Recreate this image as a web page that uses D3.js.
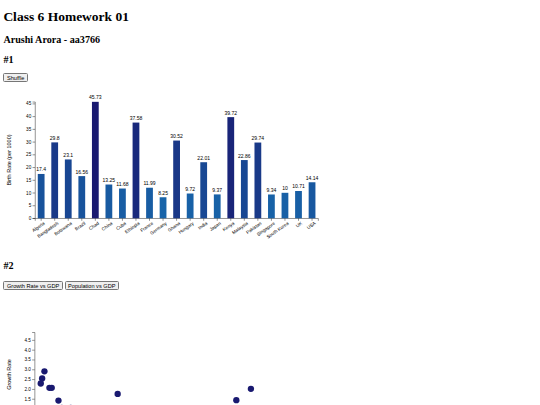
<!DOCTYPE html>
<html>
<head>
<meta charset="utf-8">
<script src="https://cdn.jsdelivr.net/npm/d3@7"></script>
<style>
  html { zoom: 0.421875; }
  body { font-family: "Times New Roman", "Liberation Serif", serif; margin: 8px; background: #fff; }
  h1 { margin-top: 14px; }
  button { font-family: Arial, "Liberation Sans", sans-serif; font-size: 13.33px; }
  .btn2 { position: relative; top: 5px; }
  svg { display: block; }
  .axis text { font-family: Arial, "Liberation Sans", sans-serif; font-size: 11px; }
</style>
</head>
<body>
<h1>Class 6 Homework 01</h1>
<h2>Arushi Arora - aa3766</h2>
<h2>#1</h2>
<button id="shuffle">Shuffle</button>
<div id="bar"></div>
<h2>#2</h2>
<button class="btn2">Growth Rate vs GDP</button> <button class="btn2">Population vs GDP</button>
<div id="scatter"></div>
<script>
// ---- Data: bar chart ----
const countries = ["Algeria","Bangladesh","Botswana","Brazil","Chad","China","Cuba","Ethiopia","France","Germany","Ghana","Hungary","India","Japan","Kenya","Malaysia","Pakistan","Singapore","South Korea","UK","USA"];
const birthRates = [17.4, 29.8, 23.1, 16.56, 45.73, 13.25, 11.68, 37.58, 11.99, 8.25, 30.52, 9.72, 22.01, 9.37, 39.72, 22.86, 29.74, 9.34, 10, 10.71, 14.14];
const yTicksBar = [0, 5, 10, 15, 20, 25, 30, 35, 40, 45];

// ---- Data: scatter (GDP vs growth rate) ----
const gdp    = [2.42, 1.85, 1.51, 3.65, 4.22, 5.88, 20.5, 53.4, 49.8, 10.2, 8.9, 15.3, 31.0, 42.5, 11.0, 61.0, 38.0, 27.0, 12.5, 9.4, 6.7];
const growth = [2.91, 2.55, 2.29, 2.07, 2.07, 1.42, 1.76, 2.02, 1.44, 0.98, 1.05, 0.95, 0.85, 0.80, 1.00, 0.90, 0.75, 0.70, 0.95, 1.00, 1.05];
const scatterYDomain = [0.6, 4.9];
const scatterXDomain = [0, 70];

// ---- Bar chart ----
(function(){
  const margin = {top: 47, right: 30, bottom: 79, left: 76};
  const width = 671, height = 276;
  const svg = d3.select("#bar").append("svg")
    .attr("width", width + margin.left + margin.right)
    .attr("height", height + margin.top + margin.bottom)
    .append("g").attr("transform", `translate(${margin.left},${margin.top})`);

  const data = countries.map((c, i) => ({country: c, value: birthRates[i]}));
  const x = d3.scaleBand().domain(countries).range([0, width]).paddingInner(0.5).paddingOuter(0.2);
  const y = d3.scaleLinear().domain([0, d3.max(birthRates)]).range([height, 0]);
  const color = d3.scaleLinear().domain(d3.extent(birthRates)).range(["#1864a9", "#191970"]);

  svg.append("g").attr("class", "axis").attr("transform", `translate(0,${height})`)
    .call(d3.axisBottom(x))
    .selectAll("text")
      .attr("transform", "rotate(-35)")
      .style("text-anchor", "end");

  svg.append("g").attr("class", "axis").call(d3.axisLeft(y).tickValues(yTicksBar));

  svg.selectAll("rect.bar").data(data).enter().append("rect")
    .attr("class", "bar")
    .attr("x", d => x(d.country))
    .attr("y", d => y(d.value))
    .attr("width", x.bandwidth())
    .attr("height", d => height - y(d.value))
    .attr("fill", d => color(d.value));

  svg.selectAll("text.lbl").data(data).enter().append("text")
    .attr("class", "lbl")
    .attr("x", d => x(d.country) + x.bandwidth() / 2)
    .attr("y", d => y(d.value) - 6)
    .attr("text-anchor", "middle")
    .style("font-family", "Arial, 'Liberation Sans', sans-serif")
    .style("font-size", "12px")
    .text(d => d.value);

  svg.append("text")
    .attr("transform", "rotate(-90)")
    .attr("x", -height / 2)
    .attr("y", -58)
    .attr("text-anchor", "middle")
    .style("font-family", "Arial, 'Liberation Sans', sans-serif")
    .style("font-size", "13px")
    .text("Birth Rate (per 1000)");
})();

// ---- Scatter ----
(function(){
  const margin = {top: 105, right: 30, bottom: 60, left: 75};
  const width = 672, height = 200;
  const svg = d3.select("#scatter").append("svg")
    .attr("width", width + margin.left + margin.right)
    .attr("height", height + margin.top + margin.bottom)
    .append("g").attr("transform", `translate(${margin.left},${margin.top})`);

  const x = d3.scaleLinear().domain(scatterXDomain).range([0, width]);
  const y = d3.scaleLinear().domain(scatterYDomain).range([height, 0]);

  svg.append("g").attr("class", "axis").attr("transform", `translate(0,${height})`).call(d3.axisBottom(x));
  svg.append("g").attr("class", "axis").call(d3.axisLeft(y));

  svg.selectAll("circle").data(gdp.map((g, i) => ({g, r: growth[i]}))).enter().append("circle")
    .attr("cx", d => x(d.g))
    .attr("cy", d => y(d.r))
    .attr("r", 7.5)
    .attr("fill", "#191970");

  svg.append("text")
    .attr("transform", "rotate(-90)")
    .attr("x", -height / 2)
    .attr("y", -57)
    .attr("text-anchor", "middle")
    .style("font-family", "Arial, 'Liberation Sans', sans-serif")
    .style("font-size", "13px")
    .text("Growth Rate");
})();
</script>
</body>
</html>
